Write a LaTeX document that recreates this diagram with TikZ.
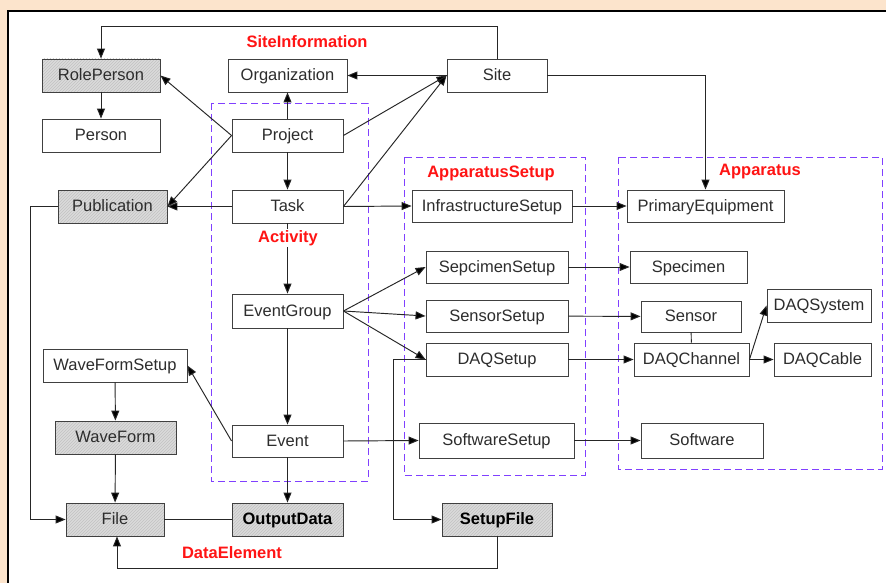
\documentclass[tikz,border=0pt]{standalone}
\usepackage{fontspec}
\setmainfont{Liberation Sans}
\usetikzlibrary{arrows.meta,patterns}
\definecolor{peach}{RGB}{252,228,204}
\definecolor{grpline}{RGB}{128,64,255}
\definecolor{lbl}{RGB}{255,20,20}
\definecolor{txt}{RGB}{45,45,45}
\tikzset{
  box/.style={draw=black!75, line width=0.9pt, fill=white, inner sep=0pt,
    font=\fontsize{16.5}{18}\selectfont, text=txt, text height=11.8pt, text depth=1.4pt},
  shaded/.style={box, preaction={fill=black!14}, pattern=north east lines, pattern color=black!24},
  strong/.style={font=\fontsize{16.5}{18}\selectfont\bfseries, text=black},
  group/.style={draw=grpline, line width=0.9pt, dash pattern=on 7pt off 4pt},
  grouplabel/.style={text=lbl, font=\fontsize{16.5}{18}\selectfont\bfseries, inner sep=1pt},
  conn/.style={draw=black!85, line width=0.95pt},
  arr/.style={conn, -{Triangle[length=10pt,width=8pt,fill=black]}}
}
\begin{document}
\begin{tikzpicture}[x=1pt,y=-1pt]
\useasboundingbox (0,0) rectangle (886,583);
% page background and frame
\fill[peach] (0,0) rectangle (886,583);
\fill[white] (8,11) rectangle (886,583);
\draw[black, line width=1.6pt] (8,583) -- (8,11) -- (886,11);

% dashed groups
\draw[group] (211,103) rectangle (368,481);
\draw[group] (404,157) rectangle (585,475);
\draw[group] (618,157) rectangle (882,469);

% helper coordinates for routed connectors
\coordinate (top) at (0,26);
\coordinate (xl) at (30,0);
\coordinate (xd) at (393,0);
\coordinate (bot) at (0,568);

% entities
\node[shaded, minimum width=118pt, minimum height=33pt] (rp) at (101,75.5) {RolePerson};
\node[box, minimum width=119pt, minimum height=33pt] (org) at (287.5,75.5) {Organization};
\node[box, minimum width=100pt, minimum height=33pt] (site) at (497,75.5) {Site};
\node[box, minimum width=118pt, minimum height=33pt] (person) at (101,135.5) {Person};
\node[box, minimum width=111pt, minimum height=33pt] (proj) at (287.5,135.5) {Project};
\node[shaded, minimum width=109pt, minimum height=33pt] (pub) at (112.5,206.5) {Publication};
\node[box, minimum width=111pt, minimum height=33pt] (task) at (287.5,206.5) {Task};
\node[box, minimum width=160pt, minimum height=32pt] (infra) at (492,206) {InfrastructureSetup};
\node[box, minimum width=157pt, minimum height=32pt] (prim) at (705.5,206) {PrimaryEquipment};
\node[box, minimum width=142pt, minimum height=32pt] (spsetup) at (497,267) {SepcimenSetup};
\node[box, minimum width=117pt, minimum height=32pt] (spec) at (688.5,267) {Specimen};
\node[box, minimum width=111pt, minimum height=34pt] (egroup) at (287.5,311) {EventGroup};
\node[box, minimum width=142pt, minimum height=32pt] (sensetup) at (497,316) {SensorSetup};
\node[box, minimum width=100pt, minimum height=31pt] (sensor) at (691,316.5) {Sensor};
\node[box, minimum width=104pt, minimum height=33pt] (daqsys) at (819,305.5) {DAQSystem};
\node[box, minimum width=142pt, minimum height=33pt] (daqsetup) at (497,359.5) {DAQSetup};
\node[box, minimum width=115pt, minimum height=33pt] (daqch) at (691.5,359.5) {DAQChannel};
\node[box, minimum width=97pt, minimum height=33pt] (daqcable) at (822.5,359.5) {DAQCable};
\node[box, minimum width=144pt, minimum height=33pt] (wfsetup) at (115,365.5) {WaveFormSetup};
\node[shaded, minimum width=121pt, minimum height=33pt] (wf) at (115.5,437.5) {WaveForm};
\node[box, minimum width=111pt, minimum height=32pt] (event) at (287.5,441) {Event};
\node[box, minimum width=155pt, minimum height=35pt] (swsetup) at (496.5,440.5) {SoftwareSetup};
\node[box, minimum width=122pt, minimum height=35pt] (sw) at (702,440.5) {Software};
\node[shaded, minimum width=98pt, minimum height=33pt] (file) at (115,519.5) {File};
\node[shaded, strong, minimum width=111pt, minimum height=33pt] (out) at (287.5,519.5) {OutputData};
\node[shaded, strong, minimum width=110pt, minimum height=33pt] (setupfile) at (497,519.5) {SetupFile};

% connectors: site information
\draw[arr] (site.north) -- (site.north |- top) -| (rp.north);
\draw[arr] (rp) -- (person);
\draw[arr] (proj.west) -- (rp.east);
\draw[arr] (proj.west) -- (pub.east);
\draw[arr] (task.west) -- (pub.east);
\draw[arr] (proj.north) -- (org.south);
\draw[arr] (site.west) -- (org.east);
\draw[arr] (proj.east) -- (site.west);
\draw[arr] (task.east) -- (site.west);
\draw[arr] (site.east) -| (prim.north);

% connectors: activity
\draw[arr] (proj) -- (task);
\draw[arr] (task) -- (egroup);
\draw[arr] (egroup) -- (event);
\draw[arr] (event) -- (out);
\draw[arr] (task.east) -- (infra.west);
\draw[arr] (egroup.east) -- (spsetup.west);
\draw[arr] (egroup.east) -- (sensetup.west);
\draw[arr] (egroup.east) -- (daqsetup.west);
\draw[arr] (event.east) -- (swsetup.west);
\draw[arr] (event.west) -- (wfsetup.east);

% connectors: apparatus
\draw[arr] (infra) -- (prim);
\draw[arr] (spsetup) -- (spec);
\draw[arr] (sensetup) -- (sensor);
\draw[arr] (daqsetup) -- (daqch);
\draw[arr] (swsetup) -- (sw);
\draw[conn] (sensor) -- (daqch);
\draw[arr] (daqch.east) -- (daqsys.west);
\draw[arr] (daqch.east) -- (daqcable.west);

% connectors: data elements
\draw[arr] (wfsetup) -- (wf);
\draw[arr] (wf) -- (file);
\draw[conn] (file) -- (out);
\draw[arr] (pub.west) -| (xl |- file.west) -- (file.west);
\draw[arr] (daqsetup.west) -| (xd |- setupfile.west) -- (setupfile.west);
\draw[arr] (setupfile.south) -- (setupfile.south |- bot) -| ([xshift=2pt]file.south);

% group labels
\node[grouplabel] (lsite) at (307,42) {SiteInformation};
\node[grouplabel, fill=white] (lact) at (288,238) {Activity};
\node[grouplabel] (lappset) at (491,173) {ApparatusSetup};
\node[grouplabel] (lapp) at (760,172) {Apparatus};
\node[grouplabel] (ldata) at (232,553) {DataElement};
\end{tikzpicture}
\end{document}
